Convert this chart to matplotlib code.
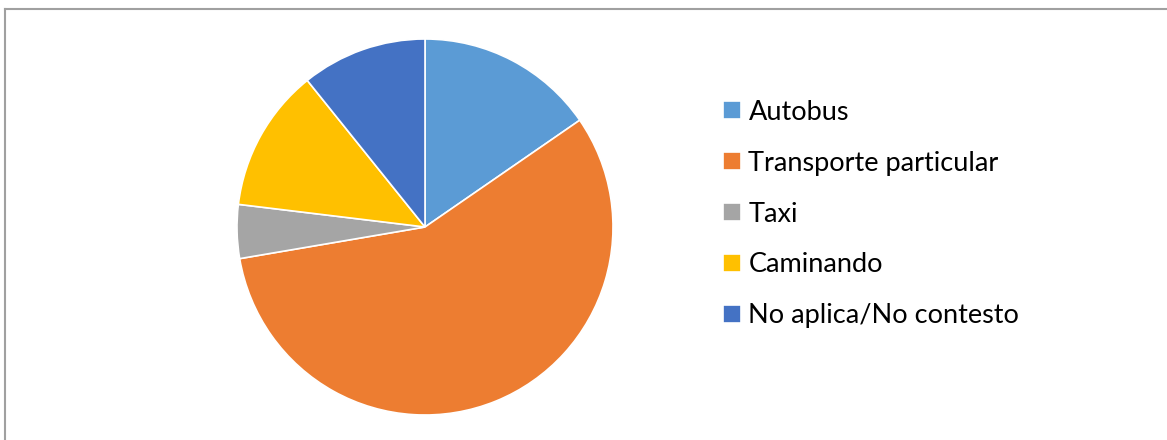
import matplotlib
matplotlib.use('Agg')
import matplotlib.pyplot as plt
from matplotlib.lines import Line2D

# Medio de transporte (conteos)
categorias = ["Autobus", "Transporte particular", "Taxi", "Caminando", "No aplica/No contesto"]
valores = [10, 37, 3, 8, 7]
colores = ["#5B9BD5", "#ED7D31", "#A5A5A5", "#FFC000", "#4472C4"]

plt.rcParams['font.family'] = ['Lato', 'DejaVu Sans']

W, H = 1167, 440
fig = plt.figure(figsize=(W / 100, H / 100), dpi=100)

# pie area: center (425,227), radius ~188 px
cx, cy, r = 425, 227, 188
ax = fig.add_axes([(cx - r) / W, (H - cy - r) / H, 2 * r / W, 2 * r / H])
wedges, _ = ax.pie(valores, colors=colores, startangle=90, counterclock=False,
                   radius=1, wedgeprops=dict(edgecolor='white', linewidth=1.2))
ax.set_xlim(-1, 1)
ax.set_ylim(-1, 1)
ax.axis('off')

# chart frame (only top and left visible in the crop)
fig.add_artist(Line2D([5 / W, 5 / W], [0, 1 - 9.5 / H], color='#A0A0A0', lw=1.5,
                      transform=fig.transFigure))
fig.add_artist(Line2D([5 / W, 1], [1 - 9.5 / H, 1 - 9.5 / H], color='#A0A0A0', lw=1.5,
                      transform=fig.transFigure))

leg = fig.legend(wedges, categorias, loc='center left',
                 bbox_to_anchor=(723 / W, 1 - 214 / H), frameon=False,
                 fontsize=19.5, handlelength=0.66, handleheight=0.66,
                 handletextpad=0.28, labelspacing=0.96, borderpad=0, borderaxespad=0)

plt.savefig('out.png', dpi=100)
